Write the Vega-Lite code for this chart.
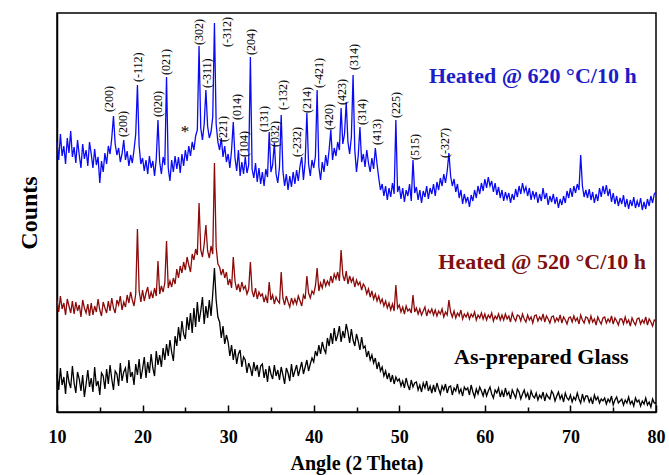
{
"$schema": "https://vega.github.io/schema/vega-lite/v6.json",
"width": 599, "height": 399, "autosize": "none",
"padding": {"left": 57, "top": 13, "right": 13, "bottom": 63},
"background": "white",
"config": {"view": {"stroke": "#000", "strokeWidth": 1.5}, "font": "Liberation Serif"},
"datasets": {
"xrd": [
{"x":10.0,"k":38,"r":112,"b":270},{"x":10.2,"k":22,"r":100,"b":252},{"x":10.4,"k":44,"r":116,"b":278},{"x":10.6,"k":27,"r":103,"b":256},{"x":10.8,"k":35,"r":109,"b":266},
{"x":11.0,"k":18,"r":97,"b":248},{"x":11.2,"k":41,"r":113,"b":274},{"x":11.4,"k":30,"r":106,"b":259},{"x":11.6,"k":24,"r":99,"b":281},{"x":11.8,"k":46,"r":111,"b":255},
{"x":12.0,"k":29,"r":98,"b":265},{"x":12.2,"k":19,"r":110,"b":249},{"x":12.4,"k":40,"r":101,"b":272},{"x":12.6,"k":33,"r":107,"b":257},{"x":12.8,"k":21,"r":95,"b":244},
{"x":13.0,"k":37,"r":112,"b":268},{"x":13.2,"k":15,"r":104,"b":253},{"x":13.4,"k":28,"r":99,"b":262},{"x":13.6,"k":42,"r":108,"b":246},{"x":13.8,"k":25,"r":96,"b":270},
{"x":14.0,"k":34,"r":109,"b":258},{"x":14.2,"k":20,"r":97,"b":244},{"x":14.4,"k":45,"r":106,"b":263},{"x":14.6,"k":26,"r":100,"b":247},{"x":14.8,"k":31,"r":113,"b":255},
{"x":15.0,"k":17,"r":102,"b":229},{"x":15.2,"k":39,"r":96,"b":251},{"x":15.4,"k":36,"r":110,"b":240},{"x":15.6,"k":23,"r":104,"b":259},{"x":15.8,"k":43,"r":99,"b":248},
{"x":16.0,"k":28,"r":111,"b":266},{"x":16.2,"k":47,"r":101,"b":258},{"x":16.4,"k":33,"r":114,"b":274},{"x":16.6,"k":22,"r":104,"b":296},{"x":16.8,"k":41,"r":99,"b":268},
{"x":17.0,"k":38,"r":112,"b":257},{"x":17.2,"k":26,"r":107,"b":264},{"x":17.4,"k":49,"r":116,"b":250},{"x":17.6,"k":31,"r":102,"b":258},{"x":17.8,"k":40,"r":110,"b":272},
{"x":18.0,"k":44,"r":105,"b":252},{"x":18.2,"k":29,"r":117,"b":261},{"x":18.4,"k":52,"r":109,"b":246},{"x":18.6,"k":35,"r":120,"b":257},{"x":18.8,"k":40,"r":112,"b":249},
{"x":19.0,"k":27,"r":106,"b":262},{"x":19.2,"k":48,"r":118,"b":278},{"x":19.4,"k":37,"r":183,"b":327},{"x":19.6,"k":53,"r":121,"b":266},{"x":19.8,"k":33,"r":110,"b":248},
{"x":20.0,"k":43,"r":122,"b":254},{"x":20.2,"k":55,"r":111,"b":241},{"x":20.4,"k":34,"r":119,"b":252},{"x":20.6,"k":50,"r":125,"b":238},{"x":20.8,"k":39,"r":113,"b":256},
{"x":21.0,"k":58,"r":120,"b":244},{"x":21.2,"k":44,"r":114,"b":251},{"x":21.4,"k":36,"r":124,"b":236},{"x":21.6,"k":61,"r":116,"b":253},{"x":21.8,"k":47,"r":151,"b":292},
{"x":22.0,"k":57,"r":118,"b":250},{"x":22.2,"k":45,"r":126,"b":238},{"x":22.4,"k":64,"r":120,"b":255},{"x":22.6,"k":52,"r":129,"b":247},{"x":22.8,"k":68,"r":171,"b":335},
{"x":23.0,"k":56,"r":124,"b":244},{"x":23.2,"k":72,"r":131,"b":231},{"x":23.4,"k":60,"r":125,"b":252},{"x":23.6,"k":51,"r":134,"b":240},{"x":23.8,"k":76,"r":128,"b":256},
{"x":24.0,"k":66,"r":143,"b":243},{"x":24.2,"k":85,"r":134,"b":255},{"x":24.4,"k":71,"r":146,"b":239},{"x":24.6,"k":91,"r":139,"b":258},{"x":24.8,"k":78,"r":150,"b":246},
{"x":25.0,"k":73,"r":142,"b":262},{"x":25.2,"k":95,"r":155,"b":251},{"x":25.4,"k":82,"r":147,"b":266},{"x":25.6,"k":99,"r":140,"b":256},{"x":25.8,"k":79,"r":158,"b":270},
{"x":26.0,"k":104,"r":152,"b":262},{"x":26.2,"k":85,"r":163,"b":276},{"x":26.4,"k":110,"r":157,"b":282},{"x":26.6,"k":90,"r":209,"b":366},{"x":26.8,"k":101,"r":162,"b":284},
{"x":27.0,"k":115,"r":155,"b":272},{"x":27.2,"k":88,"r":168,"b":288},{"x":27.4,"k":106,"r":187,"b":322},{"x":27.6,"k":94,"r":161,"b":286},{"x":27.8,"k":112,"r":154,"b":274},
{"x":28.0,"k":96,"r":166,"b":280},{"x":28.2,"k":118,"r":158,"b":295},{"x":28.4,"k":144,"r":249,"b":389},{"x":28.6,"k":112,"r":165,"b":288},{"x":28.8,"k":95,"r":148,"b":270},
{"x":29.0,"k":90,"r":145,"b":262},{"x":29.2,"k":74,"r":137,"b":274},{"x":29.4,"k":86,"r":143,"b":255},{"x":29.6,"k":68,"r":134,"b":266},{"x":29.8,"k":77,"r":140,"b":250},
{"x":30.0,"k":70,"r":127,"b":258},{"x":30.2,"k":56,"r":133,"b":244},{"x":30.4,"k":67,"r":124,"b":262},{"x":30.6,"k":52,"r":155,"b":290},{"x":30.8,"k":63,"r":131,"b":254},
{"x":31.0,"k":48,"r":122,"b":241},{"x":31.2,"k":58,"r":128,"b":262},{"x":31.4,"k":62,"r":120,"b":236},{"x":31.6,"k":45,"r":130,"b":250},{"x":31.8,"k":55,"r":123,"b":238},
{"x":32.0,"k":52,"r":126,"b":255},{"x":32.2,"k":39,"r":118,"b":239},{"x":32.4,"k":49,"r":123,"b":247},{"x":32.6,"k":44,"r":150,"b":355},{"x":32.8,"k":36,"r":121,"b":243},
{"x":33.0,"k":50,"r":115,"b":234},{"x":33.2,"k":41,"r":124,"b":249},{"x":33.4,"k":47,"r":113,"b":230},{"x":33.6,"k":35,"r":120,"b":244},{"x":33.8,"k":46,"r":116,"b":228},
{"x":34.0,"k":48,"r":118,"b":240},{"x":34.2,"k":34,"r":110,"b":226},{"x":34.4,"k":43,"r":116,"b":243},{"x":34.6,"k":30,"r":109,"b":235},{"x":34.8,"k":46,"r":130,"b":280},
{"x":35.0,"k":38,"r":112,"b":240},{"x":35.2,"k":33,"r":117,"b":247},{"x":35.4,"k":47,"r":108,"b":269},{"x":35.6,"k":36,"r":115,"b":238},{"x":35.8,"k":42,"r":111,"b":229},
{"x":36.0,"k":32,"r":109,"b":245},{"x":36.2,"k":45,"r":140,"b":297},{"x":36.4,"k":37,"r":114,"b":241},{"x":36.6,"k":28,"r":107,"b":226},{"x":36.8,"k":44,"r":116,"b":238},
{"x":37.0,"k":39,"r":110,"b":222},{"x":37.2,"k":31,"r":105,"b":236},{"x":37.4,"k":48,"r":114,"b":225},{"x":37.6,"k":35,"r":108,"b":240},{"x":37.8,"k":41,"r":113,"b":228},
{"x":38.0,"k":47,"r":108,"b":242},{"x":38.2,"k":36,"r":116,"b":231},{"x":38.4,"k":43,"r":111,"b":246},{"x":38.6,"k":50,"r":106,"b":255},{"x":38.8,"k":38,"r":117,"b":232},
{"x":39.0,"k":45,"r":113,"b":250},{"x":39.2,"k":52,"r":136,"b":299},{"x":39.4,"k":41,"r":119,"b":248},{"x":39.6,"k":48,"r":114,"b":236},{"x":39.8,"k":54,"r":121,"b":252},
{"x":40.0,"k":50,"r":118,"b":244},{"x":40.2,"k":61,"r":126,"b":256},{"x":40.4,"k":56,"r":144,"b":322},{"x":40.6,"k":67,"r":121,"b":245},{"x":40.8,"k":58,"r":129,"b":232},
{"x":41.0,"k":70,"r":124,"b":250},{"x":41.2,"k":63,"r":133,"b":240},{"x":41.4,"k":59,"r":126,"b":257},{"x":41.6,"k":74,"r":131,"b":246},{"x":41.8,"k":66,"r":127,"b":262},
{"x":42.0,"k":79,"r":136,"b":282},{"x":42.2,"k":68,"r":129,"b":252},{"x":42.4,"k":84,"r":138,"b":264},{"x":42.6,"k":71,"r":133,"b":256},{"x":42.8,"k":77,"r":140,"b":270},
{"x":43.0,"k":86,"r":131,"b":262},{"x":43.2,"k":70,"r":162,"b":304},{"x":43.4,"k":81,"r":137,"b":268},{"x":43.6,"k":74,"r":131,"b":278},{"x":43.8,"k":88,"r":141,"b":310},
{"x":44.0,"k":80,"r":128,"b":270},{"x":44.2,"k":69,"r":136,"b":258},{"x":44.4,"k":83,"r":130,"b":275},{"x":44.6,"k":72,"r":134,"b":337},{"x":44.8,"k":66,"r":125,"b":262},
{"x":45.0,"k":78,"r":132,"b":240},{"x":45.2,"k":71,"r":127,"b":256},{"x":45.4,"k":62,"r":130,"b":285},{"x":45.6,"k":75,"r":122,"b":250},{"x":45.8,"k":64,"r":128,"b":258},
{"x":46.0,"k":66,"r":125,"b":245},{"x":46.2,"k":55,"r":118,"b":262},{"x":46.4,"k":61,"r":123,"b":249},{"x":46.6,"k":52,"r":115,"b":240},{"x":46.8,"k":57,"r":121,"b":254},
{"x":47.0,"k":49,"r":113,"b":243},{"x":47.2,"k":54,"r":118,"b":264},{"x":47.4,"k":43,"r":111,"b":248},{"x":47.6,"k":50,"r":116,"b":234},{"x":47.8,"k":41,"r":109,"b":222},
{"x":48.0,"k":45,"r":113,"b":228},{"x":48.2,"k":36,"r":106,"b":216},{"x":48.4,"k":41,"r":111,"b":226},{"x":48.6,"k":33,"r":104,"b":212},{"x":48.8,"k":39,"r":109,"b":224},
{"x":49.0,"k":30,"r":102,"b":215},{"x":49.2,"k":37,"r":108,"b":229},{"x":49.4,"k":28,"r":101,"b":218},{"x":49.6,"k":35,"r":127,"b":292},{"x":49.8,"k":31,"r":104,"b":220},
{"x":50.0,"k":33,"r":107,"b":226},{"x":50.2,"k":26,"r":100,"b":213},{"x":50.4,"k":31,"r":105,"b":224},{"x":50.6,"k":24,"r":98,"b":210},{"x":50.8,"k":34,"r":106,"b":222},
{"x":51.0,"k":27,"r":101,"b":216},{"x":51.2,"k":22,"r":103,"b":228},{"x":51.4,"k":32,"r":99,"b":211},{"x":51.6,"k":25,"r":117,"b":252},{"x":51.8,"k":29,"r":100,"b":219},
{"x":52.0,"k":30,"r":104,"b":225},{"x":52.2,"k":22,"r":98,"b":212},{"x":52.4,"k":27,"r":103,"b":222},{"x":52.6,"k":20,"r":97,"b":209},{"x":52.8,"k":29,"r":101,"b":221},
{"x":53.0,"k":24,"r":105,"b":215},{"x":53.2,"k":31,"r":96,"b":226},{"x":53.4,"k":21,"r":102,"b":213},{"x":53.6,"k":26,"r":99,"b":224},{"x":53.8,"k":19,"r":103,"b":218},
{"x":54.0,"k":27,"r":97,"b":228},{"x":54.2,"k":20,"r":102,"b":216},{"x":54.4,"k":29,"r":96,"b":230},{"x":54.6,"k":23,"r":101,"b":222},{"x":54.8,"k":18,"r":98,"b":234},
{"x":55.0,"k":26,"r":103,"b":226},{"x":55.2,"k":22,"r":95,"b":238},{"x":55.4,"k":28,"r":100,"b":229},{"x":55.6,"k":19,"r":97,"b":241},{"x":55.8,"k":25,"r":112,"b":259},
{"x":56.0,"k":26,"r":100,"b":236},{"x":56.2,"k":17,"r":95,"b":226},{"x":56.4,"k":24,"r":101,"b":233},{"x":56.6,"k":21,"r":94,"b":220},{"x":56.8,"k":28,"r":99,"b":228},
{"x":57.0,"k":19,"r":96,"b":214},{"x":57.2,"k":23,"r":102,"b":222},{"x":57.4,"k":16,"r":93,"b":208},{"x":57.6,"k":25,"r":98,"b":218},{"x":57.8,"k":22,"r":95,"b":210},
{"x":58.0,"k":24,"r":99,"b":215},{"x":58.2,"k":17,"r":93,"b":205},{"x":58.4,"k":27,"r":98,"b":217},{"x":58.6,"k":20,"r":95,"b":211},{"x":58.8,"k":15,"r":100,"b":222},
{"x":59.0,"k":23,"r":92,"b":214},{"x":59.2,"k":18,"r":97,"b":226},{"x":59.4,"k":25,"r":94,"b":218},{"x":59.6,"k":21,"r":99,"b":229},{"x":59.8,"k":16,"r":93,"b":221},
{"x":60.0,"k":23,"r":98,"b":233},{"x":60.2,"k":16,"r":92,"b":224},{"x":60.4,"k":21,"r":97,"b":235},{"x":60.6,"k":25,"r":94,"b":226},{"x":60.8,"k":18,"r":99,"b":231},
{"x":61.0,"k":14,"r":91,"b":220},{"x":61.2,"k":22,"r":96,"b":229},{"x":61.4,"k":19,"r":93,"b":217},{"x":61.6,"k":24,"r":98,"b":225},{"x":61.8,"k":15,"r":92,"b":214},
{"x":62.0,"k":21,"r":97,"b":222},{"x":62.2,"k":15,"r":92,"b":211},{"x":62.4,"k":24,"r":98,"b":220},{"x":62.6,"k":17,"r":93,"b":213},{"x":62.8,"k":20,"r":96,"b":219},
{"x":63.0,"k":13,"r":90,"b":209},{"x":63.2,"k":22,"r":99,"b":218},{"x":63.4,"k":18,"r":94,"b":212},{"x":63.6,"k":14,"r":91,"b":223},{"x":63.8,"k":23,"r":97,"b":215},
{"x":64.0,"k":20,"r":96,"b":226},{"x":64.2,"k":13,"r":91,"b":218},{"x":64.4,"k":18,"r":98,"b":229},{"x":64.6,"k":22,"r":93,"b":220},{"x":64.8,"k":15,"r":90,"b":225},
{"x":65.0,"k":19,"r":97,"b":216},{"x":65.2,"k":12,"r":92,"b":224},{"x":65.4,"k":21,"r":95,"b":212},{"x":65.6,"k":16,"r":89,"b":221},{"x":65.8,"k":14,"r":96,"b":214},
{"x":66.0,"k":19,"r":97,"b":220},{"x":66.2,"k":12,"r":91,"b":209},{"x":66.4,"k":17,"r":95,"b":218},{"x":66.6,"k":14,"r":92,"b":211},{"x":66.8,"k":20,"r":98,"b":224},
{"x":67.0,"k":11,"r":90,"b":213},{"x":67.2,"k":18,"r":96,"b":219},{"x":67.4,"k":15,"r":93,"b":207},{"x":67.6,"k":13,"r":89,"b":216},{"x":67.8,"k":21,"r":95,"b":210},
{"x":68.0,"k":18,"r":96,"b":218},{"x":68.2,"k":11,"r":90,"b":208},{"x":68.4,"k":16,"r":94,"b":215},{"x":68.6,"k":20,"r":91,"b":204},{"x":68.8,"k":13,"r":97,"b":213},
{"x":69.0,"k":17,"r":89,"b":207},{"x":69.2,"k":10,"r":95,"b":216},{"x":69.4,"k":19,"r":92,"b":209},{"x":69.6,"k":14,"r":88,"b":221},{"x":69.8,"k":12,"r":94,"b":214},
{"x":70.0,"k":17,"r":95,"b":224},{"x":70.2,"k":10,"r":90,"b":215},{"x":70.4,"k":15,"r":96,"b":226},{"x":70.6,"k":12,"r":91,"b":219},{"x":70.8,"k":19,"r":94,"b":228},
{"x":71.0,"k":13,"r":88,"b":222},{"x":71.2,"k":9,"r":97,"b":257},{"x":71.4,"k":18,"r":92,"b":226},{"x":71.6,"k":11,"r":89,"b":215},{"x":71.8,"k":16,"r":95,"b":222},
{"x":72.0,"k":16,"r":94,"b":214},{"x":72.2,"k":10,"r":89,"b":223},{"x":72.4,"k":14,"r":96,"b":212},{"x":72.6,"k":8,"r":90,"b":220},{"x":72.8,"k":17,"r":93,"b":209},
{"x":73.0,"k":12,"r":87,"b":218},{"x":73.2,"k":15,"r":95,"b":211},{"x":73.4,"k":9,"r":91,"b":224},{"x":73.6,"k":13,"r":88,"b":215},{"x":73.8,"k":11,"r":94,"b":226},
{"x":74.0,"k":14,"r":95,"b":218},{"x":74.2,"k":8,"r":89,"b":227},{"x":74.4,"k":13,"r":93,"b":216},{"x":74.6,"k":10,"r":90,"b":223},{"x":74.8,"k":16,"r":96,"b":210},
{"x":75.0,"k":7,"r":88,"b":219},{"x":75.2,"k":12,"r":94,"b":208},{"x":75.4,"k":15,"r":91,"b":216},{"x":75.6,"k":9,"r":87,"b":206},{"x":75.8,"k":11,"r":93,"b":214},
{"x":76.0,"k":13,"r":93,"b":208},{"x":76.2,"k":7,"r":88,"b":217},{"x":76.4,"k":12,"r":95,"b":205},{"x":76.6,"k":9,"r":89,"b":213},{"x":76.8,"k":15,"r":92,"b":203},
{"x":77.0,"k":8,"r":86,"b":212},{"x":77.2,"k":11,"r":94,"b":206},{"x":77.4,"k":6,"r":90,"b":215},{"x":77.6,"k":14,"r":87,"b":204},{"x":77.8,"k":10,"r":93,"b":211},
{"x":78.0,"k":12,"r":94,"b":205},{"x":78.2,"k":6,"r":88,"b":214},{"x":78.4,"k":11,"r":92,"b":202},{"x":78.6,"k":8,"r":89,"b":210},{"x":78.8,"k":14,"r":95,"b":203},
{"x":79.0,"k":7,"r":87,"b":213},{"x":79.2,"k":10,"r":93,"b":206},{"x":79.4,"k":5,"r":90,"b":216},{"x":79.6,"k":13,"r":86,"b":209},{"x":79.8,"k":9,"r":92,"b":218},
{"x":80.0,"k":9,"r":91,"b":220}
],
"hkl": [
{"t":16.1,"v":300,"s":"(200)"},{"t":17.7,"v":275,"s":"(200)"},{"t":19.5,"v":330,"s":"(-112)"},{"t":21.8,"v":295,"s":"(020)"},{"t":22.75,"v":337,"s":"(021)"},
{"t":26.6,"v":367,"s":"(302)"},{"t":27.5,"v":324,"s":"(-311)"},{"t":29.85,"v":365,"s":"(-312)"},{"t":29.4,"v":270,"s":"(221)"},{"t":31.0,"v":292,"s":"(014)"},
{"t":31.85,"v":255,"s":"(104)"},{"t":32.7,"v":357,"s":"(204)"},{"t":34.2,"v":280,"s":"(131)"},{"t":35.5,"v":265,"s":"(032)"},{"t":36.4,"v":302,"s":"(-132)"},
{"t":38.05,"v":255,"s":"(-232)"},{"t":39.2,"v":299,"s":"(214)"},{"t":40.6,"v":324,"s":"(-421)"},{"t":41.8,"v":282,"s":"(420)"},{"t":43.3,"v":307,"s":"(423)"},
{"t":44.7,"v":342,"s":"(314)"},{"t":45.65,"v":287,"s":"(314)"},{"t":47.4,"v":267,"s":"(413)"},{"t":49.6,"v":294,"s":"(225)"},{"t":51.85,"v":252,"s":"(515)"},
{"t":55.35,"v":254,"s":"(-327)"}
]
},
"layer": [
{
"data": {"name": "xrd"},
"transform": [{"fold": ["k", "r", "b"], "as": ["series", "v"]}],
"mark": {"type": "line", "strokeWidth": 1.3},
"encoding": {
"x": {"field": "x", "type": "quantitative", "scale": {"domain": [10, 80], "nice": false, "zero": false},
"axis": {"values": [10,15,20,25,30,35,40,45,50,55,60,65,70,75,80],
"labelExpr": "datum.value % 10 === 0 ? datum.label : ''",
"ticks": true,
"tickSize": {"condition": {"test": "datum.value % 10 === 0", "value": -7}, "value": -5},
"tickColor": "#000", "tickWidth": 1.5, "domainColor": "#000", "domainWidth": 1.5,
"labelFont": "Liberation Serif", "labelFontWeight": "bold", "labelFontSize": 18, "labelColor": "#000",
"labelPadding": 23, "labelFlush": false, "labelOverlap": false,
"title": "Angle (2 Theta)", "titleFont": "Liberation Serif", "titleFontWeight": "bold", "titleFontSize": 20,
"titleColor": "#000", "titlePadding": 5, "grid": false}},
"y": {"field": "v", "type": "quantitative", "scale": {"domain": [0, 399], "nice": false, "zero": false},
"axis": {"title": "Counts", "labels": false, "ticks": false, "grid": false, "domainColor": "#000", "domainWidth": 1.5,
"titleFont": "Liberation Serif", "titleFontWeight": "bold", "titleFontSize": 24, "titleColor": "#000", "titlePadding": 16}},
"color": {"field": "series", "type": "nominal", "scale": {"domain": ["k", "r", "b"], "range": ["#000000", "#8b0a0a", "#0a0af5"]}, "legend": null}
}
},
{
"data": {"name": "hkl"},
"mark": {"type": "text", "angle": 270, "align": "left", "baseline": "middle", "fontSize": 12, "font": "Liberation Serif", "color": "#000"},
"encoding": {"x": {"field": "t", "type": "quantitative"}, "y": {"field": "v", "type": "quantitative"}, "text": {"field": "s"}}
},
{
"data": {"values": [{"t": 24.96, "v": 280, "s": "*"}]},
"mark": {"type": "text", "align": "center", "baseline": "middle", "fontSize": 17, "font": "Liberation Serif", "color": "#000"},
"encoding": {"x": {"field": "t", "type": "quantitative"}, "y": {"field": "v", "type": "quantitative"}, "text": {"field": "s"}}
},
{
"data": {"values": [{"t": 65.6, "v": 336, "s": "Heated @ 620 °C/10 h"}]},
"mark": {"type": "text", "align": "center", "baseline": "middle", "fontSize": 22, "fontWeight": "bold", "font": "Liberation Serif", "color": "#1c1cc8"},
"encoding": {"x": {"field": "t", "type": "quantitative"}, "y": {"field": "v", "type": "quantitative"}, "text": {"field": "s"}}
},
{
"data": {"values": [{"t": 66.7, "v": 150, "s": "Heated @ 520 °C/10 h"}]},
"mark": {"type": "text", "align": "center", "baseline": "middle", "fontSize": 22, "fontWeight": "bold", "font": "Liberation Serif", "color": "#7f1010"},
"encoding": {"x": {"field": "t", "type": "quantitative"}, "y": {"field": "v", "type": "quantitative"}, "text": {"field": "s"}}
},
{
"data": {"values": [{"t": 66.6, "v": 55, "s": "As-prepared Glass"}]},
"mark": {"type": "text", "align": "center", "baseline": "middle", "fontSize": 22, "fontWeight": "bold", "font": "Liberation Serif", "color": "#000"},
"encoding": {"x": {"field": "t", "type": "quantitative"}, "y": {"field": "v", "type": "quantitative"}, "text": {"field": "s"}}
}
]
}
